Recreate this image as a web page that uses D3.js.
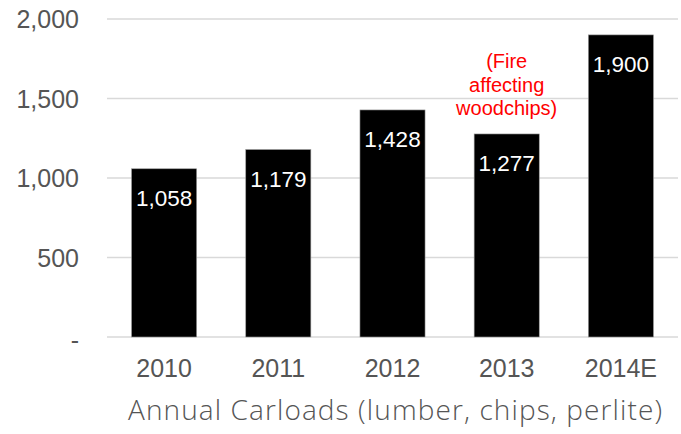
<!DOCTYPE html>
<html>
<head>
<meta charset="utf-8">
<script src="https://cdn.jsdelivr.net/npm/d3@7"></script>
<style>
  body { margin: 0; background: #fff; }
  svg { display: block; }
</style>
</head>
<body>
<div id="chart"></div>
<script>
const years = ["2010", "2011", "2012", "2013", "2014E"];
const carloads = [1058, 1179, 1428, 1277, 1900];
const yTicks = [0, 500, 1000, 1500, 2000];
const noteLines = ["(Fire", "affecting", "woodchips)"];

const width = 681, height = 434;
const margin = {top: 19, right: 3, bottom: 97, left: 107};

const svg = d3.select("#chart")
  .append("svg")
  .attr("width", width)
  .attr("height", height);

const x = d3.scaleBand()
  .domain(years)
  .range([margin.left, width - margin.right])
  .paddingInner(0.43)
  .paddingOuter(0.215);

const y = d3.scaleLinear()
  .domain([0, 2000])
  .range([height - margin.bottom, margin.top]);

// gridlines
svg.append("g")
  .selectAll("line")
  .data(yTicks)
  .join("line")
  .attr("x1", margin.left)
  .attr("x2", width - margin.right)
  .attr("y1", d => y(d))
  .attr("y2", d => y(d))
  .attr("stroke", "#d9d9d9")
  .attr("stroke-width", 1.5);

// y tick labels
svg.append("g")
  .selectAll("text")
  .data(yTicks)
  .join("text")
  .attr("x", 79)
  .attr("y", d => y(d) + (d === 0 ? 3 : 0))
  .attr("dy", "0.36em")
  .attr("text-anchor", "end")
  .attr("font-family", "Liberation Sans, Arial, sans-serif")
  .attr("font-size", 25)
  .attr("fill", "#555")
  .text(d => d === 0 ? "-" : d3.format(",")(d));

// bars
svg.append("g")
  .selectAll("rect")
  .data(carloads)
  .join("rect")
  .attr("x", (d, i) => x(years[i]))
  .attr("width", x.bandwidth())
  .attr("y", d => y(d))
  .attr("height", d => y(0) - y(d))
  .attr("fill", "#000")
  .attr("stroke", "#999")
  .attr("stroke-width", 0.6);

// bar value labels
svg.append("g")
  .selectAll("text")
  .data(carloads)
  .join("text")
  .attr("x", (d, i) => x(years[i]) + x.bandwidth() / 2)
  .attr("y", d => y(d) + 37)
  .attr("text-anchor", "middle")
  .attr("font-family", "Liberation Sans, Arial, sans-serif")
  .attr("font-size", 22.5)
  .attr("fill", "#fff")
  .text(d => d3.format(",")(d));

// x labels
svg.append("g")
  .selectAll("text")
  .data(years)
  .join("text")
  .attr("x", d => x(d) + x.bandwidth() / 2)
  .attr("y", 377)
  .attr("text-anchor", "middle")
  .attr("font-family", "Liberation Sans, Arial, sans-serif")
  .attr("font-size", 25)
  .attr("fill", "#555")
  .text(d => d);

// annotation over 2013
svg.append("g")
  .selectAll("text")
  .data(noteLines)
  .join("text")
  .attr("x", x("2013") + x.bandwidth() / 2)
  .attr("y", (d, i) => 68 + i * 23.5)
  .attr("text-anchor", "middle")
  .attr("font-family", "Liberation Sans, Arial, sans-serif")
  .attr("font-size", 20)
  .attr("fill", "#ff0000")
  .text(d => d);

// axis title
svg.append("text")
  .attr("x", 395)
  .attr("y", 420)
  .attr("text-anchor", "middle")
  .attr("font-family", "Open Sans, sans-serif")
  .attr("font-weight", 300)
  .attr("font-size", 28)
  .attr("textLength", 534)
  .attr("lengthAdjust", "spacing")
  .attr("fill", "#555")
  .text("Annual Carloads (lumber, chips, perlite)");
</script>
</body>
</html>
